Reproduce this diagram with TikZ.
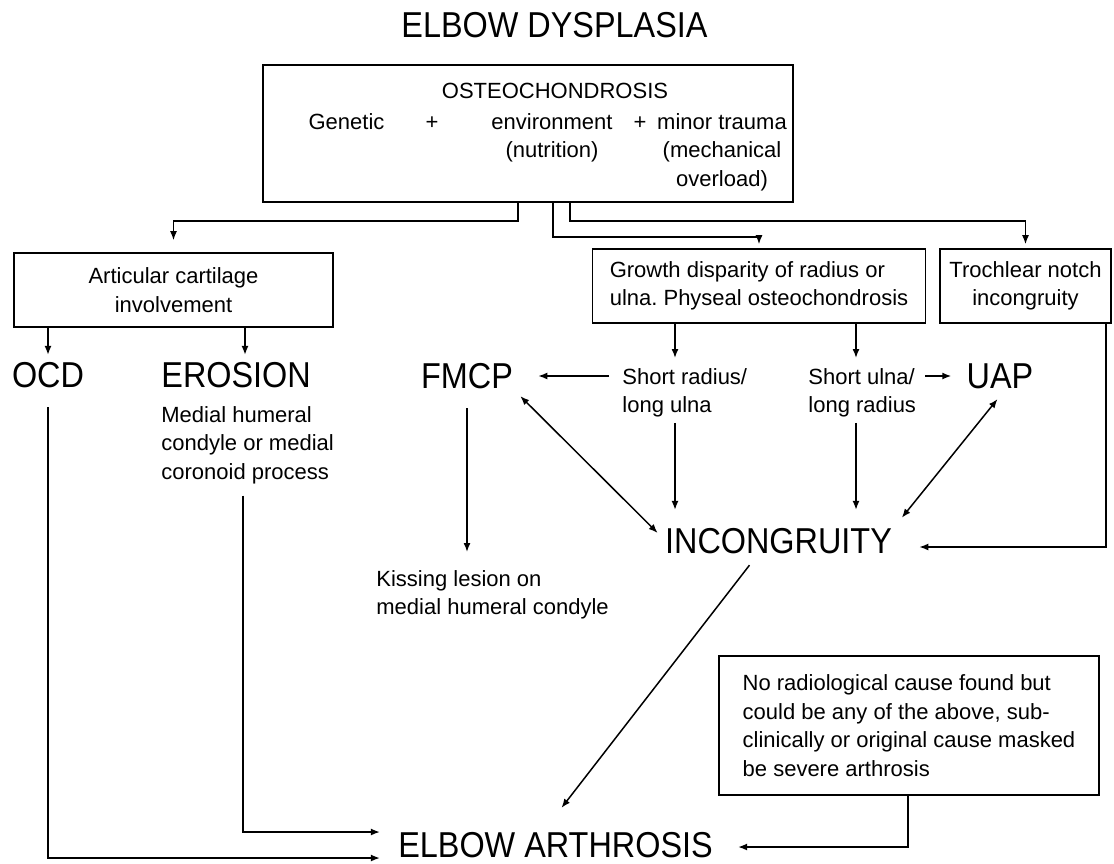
\documentclass[tikz,border=0pt]{standalone}
\usepackage{fontspec}
\setmainfont{Liberation Sans}
\newfontfamily\bigsans[FakeStretch=0.9]{Liberation Sans}
\usepackage{tikz}
\usetikzlibrary{arrows.meta}
\frenchspacing

\begin{document}
\begin{tikzpicture}[x=0.5pt, y=-0.5pt,
    font=\fontsize{11}{14.3}\selectfont,
    box/.style={draw, line width=0.8pt, align=center, inner sep=0pt},
    txt/.style={inner sep=0pt, align=left},
    biglbl/.style={font=\bigsans\fontsize{18}{20}\selectfont, inner sep=3.5pt},
    arr/.style={line width=0.75pt, -{Latex[length=4.5pt,width=3.5pt]}},
    dblarr/.style={line width=0.75pt, {Latex[length=4.5pt,width=3.5pt]}-{Latex[length=4.5pt,width=3.5pt]}}]

  \useasboundingbox (0,0) rectangle (1114,863);

  \node[biglbl] (title) at (554.5,25) {ELBOW DYSPLASIA};

  % osteochondrosis box
  \node[box, minimum width=265pt, minimum height=68.5pt] (osteo) at (528,133.5) {};
  \node[txt, anchor=north] (osteoT) at (555,83) {OSTEOCHONDROSIS};
  \node[txt, anchor=north] (gen) at (346.5,113) {Genetic};
  \node (plusA) at (432,123) {+};
  \node[txt, anchor=north, align=center] (env) at (552,113) {environment\\(nutrition)};
  \node (plusB) at (640,123) {+};
  \node[txt, anchor=north, align=center] (trauma) at (722,113) {minor trauma\\(mechanical\\overload)};

  \node[box, minimum width=159.5pt, minimum height=37pt] (artic) at (173.5,290) {Articular cartilage\\involvement};
  \node[box, minimum width=166.5pt, minimum height=37pt, align=left] (growth) at (759,286) {Growth disparity of radius or\\ulna. Physeal osteochondrosis};
  \node[box, minimum width=85.5pt, minimum height=37pt] (troch) at (1025.5,286) {Trochlear notch\\incongruity};

  \node[biglbl] (ocd) at (48,375) {OCD};
  \node[biglbl, anchor=west] (erosion) at (154,375) {EROSION};
  \node[txt, anchor=north west] (erodesc) at (161,406) {Medial humeral\\condyle or medial\\coronoid process};
  \node[biglbl] (fmcp) at (467,376) {FMCP};
  \node[txt, anchor=north west] (shortrad) at (622,368) {Short radius/\\long ulna};
  \node[txt, anchor=north west] (shortuln) at (808,368) {Short ulna/\\long radius};
  \node[biglbl] (uap) at (1000,376) {UAP};
  \node[txt, anchor=north west] (kiss) at (376,570) {Kissing lesion on\\medial humeral condyle};
  \node[biglbl] (incong) at (778.5,541) {INCONGRUITY};
  \node[box, minimum width=190pt, minimum height=69.5pt, align=left] (norad) at (909,725.5)
    {No radiological cause found but\\could be any of the above, sub-\\clinically or original cause masked\\be severe arthrosis};
  \node[biglbl] (arthro) at (555.5,845) {ELBOW ARTHROSIS};

  % branches from the top box
  \draw[arr, shorten >=6pt] (osteo.south -| 518,0) |- (artic.north |- 0,221) -- (artic.north);
  \draw[arr, shorten >=2pt] (osteo.south -| 553,0) |- (growth.north |- 0,237) -- (growth.north);
  \draw[arr, shorten >=2pt] (osteo.south -| 570,0) |- (troch.north |- 0,221) -- (troch.north);

  \draw[arr] (artic.south -| ocd) -- (ocd);
  \draw[arr] (artic.south -| 245,0) -- (erosion.north -| 245,0);

  \draw[arr, shorten >=5pt] (growth.south -| 675,0) -- (shortrad.north -| 675,0);
  \draw[arr, shorten >=5pt] (growth.south -| 856,0) -- (shortuln.north -| 856,0);
  \draw[arr, shorten <=6.5pt, shorten >=9pt] (shortrad.west |- fmcp) -- (fmcp.east);
  \draw[arr, shorten <=4.5pt, shorten >=4pt] (shortuln.east |- uap) -- (uap.west);

  % into incongruity
  \draw[arr, shorten <=2.5pt, shorten >=5.5pt] (shortrad.south -| 675,0) -- (incong.north -| 675,0);
  \draw[arr, shorten <=2.5pt, shorten >=5.5pt] (shortuln.south -| 856,0) -- (incong.north -| 856,0);
  \draw[dblarr] (fmcp.south east) -- ([yshift=4pt]incong.west);
  \draw[dblarr, shorten <=2pt, shorten >=2pt] (uap.south) -- (incong.north east);
  \draw[arr, shorten >=10pt] (troch.south -| 1106,0) |- ([yshift=-3pt]incong.east);

  \draw[arr, shorten <=6pt, shorten >=9pt] (fmcp.south) -- (fmcp.south |- kiss.north);

  % into elbow arthrosis
  \draw[arr] ([xshift=-14.5pt,yshift=-2pt]incong.south) -- ([xshift=3pt,yshift=8.5pt]arthro.north);
  \draw[arr, shorten <=5.5pt, shorten >=5.5pt] (erodesc.south -| 243,0) |- ([yshift=6.5pt]arthro.west);
  \draw[arr, shorten <=6pt, shorten >=5.5pt] (ocd.south) |- ([yshift=-6.5pt]arthro.west);
  \draw[arr, shorten >=9pt] (norad.south -| 908,0) |- ([yshift=-1pt]arthro.east);
\end{tikzpicture}
\end{document}
